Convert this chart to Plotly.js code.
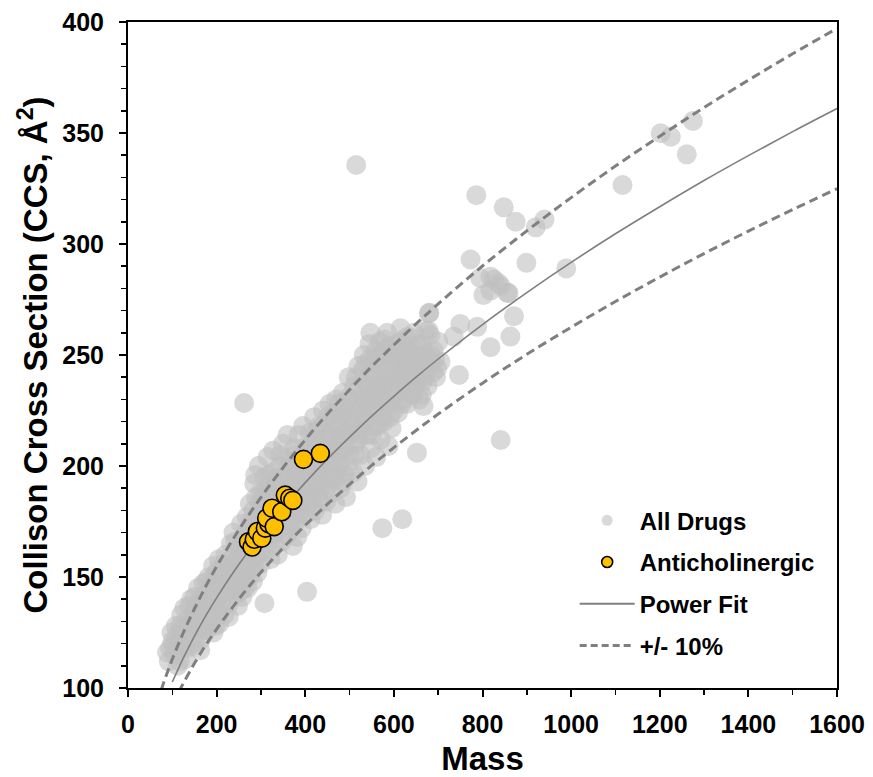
<!DOCTYPE html>
<html>
<head>
<meta charset="utf-8">
<script src="https://cdn.plot.ly/plotly-3.0.1.min.js"></script>
<style>html,body{margin:0;padding:0;background:#fff;}#chart{width:873px;height:777px;}</style>
</head>
<body>
<div id="chart"></div>
<script>
// All drugs: mass and CCS
const allMass = [
 88,95,100,105,110,112,118,120,122,128,130,135,138,140,145,148,150,155,158,160,165,168,170,175,178,182,185,188,192,195,198,200,
 205,208,210,215,218,220,225,228,232,235,238,240,245,248,250,252,255,258,260,262,265,268,270,272,275,278,280,282,285,287,288,290,292,295,296,298,300,300,
 305,308,310,312,315,318,320,322,325,328,330,332,335,338,340,342,345,348,350,352,355,358,360,362,365,368,370,372,375,378,380,382,385,388,390,392,395,398,400,400,
 405,408,410,412,415,418,420,422,425,428,430,432,435,438,440,442,445,448,450,452,455,458,460,462,465,468,470,472,475,478,480,482,485,488,490,492,495,498,500,500,
 505,508,510,512,515,518,520,522,525,528,530,532,535,538,540,542,545,547,548,550,552,555,558,560,562,565,568,570,572,575,578,580,582,585,588,590,592,595,598,600,
 605,608,610,612,615,618,620,622,625,628,630,632,635,638,640,645,648,650,652,655,658,660,662,665,667,670,672,675,678,680,682,685,690,695,700,705,
 92,98,103,108,115,117,125,127,133,137,142,147,152,153,157,162,163,167,172,173,177,180,183,187,190,193,197,199,
 202,206,212,213,217,222,224,227,230,233,237,242,243,247,251,254,257,259,263,264,267,269,273,274,277,279,283,284,286,289,291,294,297,299,
 303,304,307,309,311,314,316,319,321,324,326,327,331,334,336,339,341,344,346,349,351,354,356,359,361,364,366,369,371,374,376,379,381,384,386,389,391,394,396,399,
 403,406,409,411,414,416,419,421,424,427,429,431,434,436,439,441,444,446,449,451,454,456,459,461,464,466,469,471,474,476,479,481,484,486,489,491,494,496,499,
 503,506,509,511,514,516,519,521,524,526,529,531,534,536,539,541,544,546,549,551,554,556,559,561,564,566,569,571,574,576,579,581,584,586,589,591,594,596,599,
 603,606,609,611,614,616,619,621,624,626,629,631,634,636,639,643,646,649,653,656,659,663,666,669,673,676,683,688,693,698,
 262,515,786,848,875,920,940,1116,1202,1225,1275,1261,773,899,989,826,841,818,856,795,802,836,818,859,679,750,735,788,871,818,863,747,841,574,619,404,308
];
const allCCS = [
 116,118,121,115,124,110,128,133,118,122,113,131,137,125,119,134,141,127,145,131,122,139,147,135,126,150,143,131,155,138,128,147,
 158,135,142,151,133,160,146,138,165,153,170,142,158,137,163,148,174,141,157,168,150,177,145,162,183,155,170,148,192,196,160,176,152,200,183,167,156,188,
 173,195,161,182,204,168,188,158,177,207,165,194,183,160,172,200,188,166,210,178,195,169,214,185,202,173,190,164,208,180,196,168,214,185,201,172,218,190,178,207,
 196,183,215,176,204,190,222,180,210,197,186,218,203,178,225,192,209,184,215,200,228,188,207,219,195,183,230,212,199,222,190,207,233,215,196,186,224,240,205,214,
 222,197,236,210,228,193,245,216,205,232,221,250,200,238,214,226,255,260,208,242,230,218,249,204,235,224,256,212,243,230,220,252,237,260,209,228,246,217,238,225,
 247,233,255,240,262,228,250,236,244,258,228,239,252,245,232,260,242,237,206,249,230,255,243,238,227,250,261,244,261,269,259,247,252,240,256,247,
 112,125,119,128,121,112,127,136,118,128,140,129,121,136,130,139,117,132,126,142,148,138,128,146,137,125,151,140,
 153,129,146,137,156,143,154,132,149,158,145,166,150,155,143,160,152,165,145,160,170,154,166,150,175,162,180,155,168,186,160,172,178,161,
 182,166,188,176,170,190,180,196,172,186,168,197,179,191,170,186,177,205,195,175,187,181,203,176,193,172,188,199,180,194,174,205,189,178,197,192,180,208,196,185,
 204,189,200,208,185,198,212,192,203,216,192,206,184,212,199,218,196,204,191,222,208,194,214,200,224,209,194,218,206,228,201,214,223,193,208,226,215,200,231,
 215,229,218,205,240,222,212,235,226,214,243,230,220,246,228,236,222,248,232,214,240,226,252,236,218,246,232,250,222,240,257,228,246,234,254,222,240,250,232,
 240,252,224,246,236,256,242,230,252,238,249,244,234,258,238,250,233,246,254,240,248,232,252,240,248,236,250,242,248,244,
 228.4,335.6,322,316.5,310,307.5,311,326.6,349.9,348.3,355.4,340.4,293,291.5,289,284,281,279,278,284.7,277,282.4,285.3,277.9,268.8,264,258.3,262.7,267.5,253.5,258.3,241,211.7,172,176,143.3,138.2
];

// Anticholinergic drugs
const antiMass = [272,280,285,292,302,310,318,313,325,330,347,355,365,372,396,434];
const antiCCS  = [165.9,163.5,167,170.5,167.5,172,174,176.5,181,172.7,179.4,186.9,185.5,184.5,203,205.7];

// Power fit curve
const fitMass = [100,125,150,175,200,250,300,350,400,450,500,550,600,650,700,800,900,1000,1100,1200,1300,1400,1500,1600];
const fitCCS  = [102.7,113.6,123.4,132.4,140.6,155.6,169.0,181.2,192.5,203.1,213.0,222.5,231.4,240.0,248.2,263.7,278.1,291.7,304.6,316.8,328.6,339.8,350.6,361.0];

// +/- 10% band lines
const bandMass = [75,80,90,100,125,150,175,200,250,300,350,400,450,500,550,600,650,700,800,900,1000,1100,1200,1300,1400,1500,1600];
const upperCCS = [99.1,102.1,107.7,113.0,125.0,135.7,145.6,154.7,171.2,185.9,199.3,211.8,223.4,234.3,244.8,254.5,264.0,273.0,290.1,305.9,320.9,335.1,348.5,361.5,373.8,385.7,397.1];
const lowerCCS = [81.1,83.5,88.1,92.4,102.2,111.1,119.2,126.5,140.0,152.1,163.1,173.3,182.8,191.7,200.3,208.3,216.0,223.4,237.3,250.3,262.5,274.1,285.1,295.7,305.8,315.5,324.9];

const legendNames = ['All Drugs','Anticholinergic','Power Fit','+/- 10%'];

const FONT = 'Liberation Sans, Arial, Helvetica, sans-serif';
const lineGray = '#7f7f7f';

const traces = [
  {x: allMass, y: allCCS, type:'scatter', mode:'markers', showlegend:false, hoverinfo:'skip',
   marker:{size:20, color:'#bfbfbf', opacity:0.6, line:{width:0}}},
  {x: fitMass, y: fitCCS, type:'scatter', mode:'lines', showlegend:false, hoverinfo:'skip',
   line:{color:lineGray, width:1.6, shape:'spline'}},
  {x: bandMass, y: upperCCS, type:'scatter', mode:'lines', showlegend:false, hoverinfo:'skip',
   line:{color:lineGray, width:3, dash:'9px,5px', shape:'spline'}},
  {x: bandMass, y: lowerCCS, type:'scatter', mode:'lines', showlegend:false, hoverinfo:'skip',
   line:{color:lineGray, width:3, dash:'9px,5px', shape:'spline'}},
  {x: antiMass, y: antiCCS, type:'scatter', mode:'markers', showlegend:false, hoverinfo:'skip',
   marker:{size:18, color:'#ffc000', line:{color:'#000', width:1.6}}},
  // legend entries
  {x:[null], y:[null], type:'scatter', mode:'markers', name:legendNames[0], legendgroup:'a', legendrank:1,
   marker:{size:11, color:'#d9d9d9'}},
  {x:[null], y:[null], type:'scatter', mode:'markers', name:legendNames[1], legendgroup:'b', legendrank:2,
   marker:{size:11, color:'#ffc000', line:{color:'#000', width:1.6}}},
  {x:[null], y:[null], type:'scatter', mode:'lines', name:legendNames[2], legendgroup:'c', legendrank:3,
   line:{color:lineGray, width:2}},
  {x:[null], y:[null], type:'scatter', mode:'lines', name:legendNames[3], legendgroup:'d', legendrank:4,
   line:{color:lineGray, width:3, dash:'7px,4px'}}
];

const axisCommon = {
  showgrid:false, zeroline:false, showline:true, linecolor:'#000', linewidth:2, mirror:true,
  ticks:'outside', ticklen:7, tickwidth:2, tickcolor:'#000',
  tickfont:{family:FONT, size:25, color:'#000', weight:'bold'}
};

const layout = {
  width:873, height:777,
  margin:{l:128, r:36, t:22, b:89},
  paper_bgcolor:'#fff', plot_bgcolor:'#fff',
  font:{family:FONT, color:'#000'},
  showlegend:true,
  legend:{x:0.63, y:0.285, xanchor:'left', yanchor:'top', bgcolor:'rgba(0,0,0,0)', borderwidth:0,
          font:{family:FONT, size:24, color:'#000', weight:'bold'}, tracegroupgap:7.5, itemwidth:55,
          traceorder:'grouped'},
  xaxis: Object.assign({}, axisCommon, {
    range:[0,1600], tick0:0, dtick:200, ticklabelstandoff:6,
    minor:{dtick:100, ticks:'outside', ticklen:5, tickwidth:1.5, tickcolor:'#000', showgrid:false},
    title:{text:'Mass', font:{family:FONT, size:33, color:'#000', weight:'bold'}, standoff:14}
  }),
  yaxis: Object.assign({}, axisCommon, {
    range:[100,400], tick0:100, dtick:50, ticklabelstandoff:10,
    minor:{dtick:10, ticks:'outside', ticklen:5, tickwidth:1.5, tickcolor:'#000', showgrid:false},
    title:{text:'Collison Cross Section (CCS, Å<sup>2</sup>)', font:{family:FONT, size:33, color:'#000', weight:'bold'}, standoff:5}
  })
};

Plotly.newPlot('chart', traces, layout, {displayModeBar:false, staticPlot:true});
</script>
</body>
</html>
